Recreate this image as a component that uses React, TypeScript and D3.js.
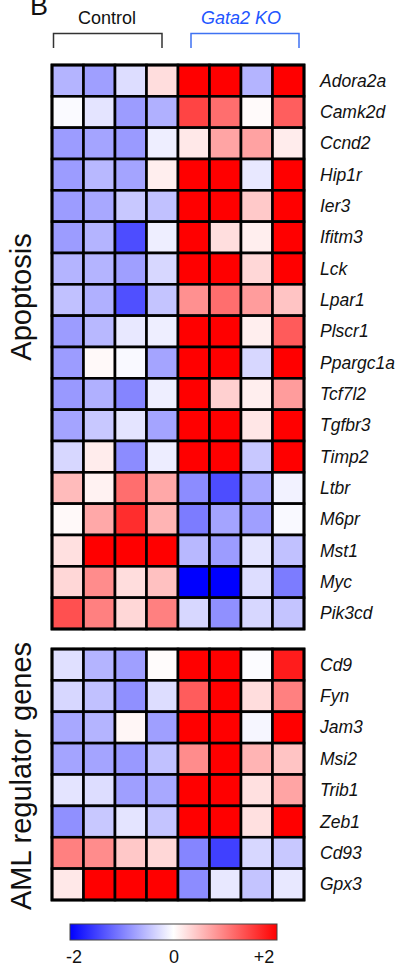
import React, { useEffect, useRef } from "react";
import * as d3 from "d3";

// samples: 4 control + 4 Gata2 KO
const samples = ["C1", "C2", "C3", "C4", "KO1", "KO2", "KO3", "KO4"];

const apoptosisGenes = [
  "Adora2a", "Camk2d", "Ccnd2", "Hip1r", "Ier3", "Ifitm3", "Lck", "Lpar1", "Plscr1",
  "Ppargc1a", "Tcf7l2", "Tgfbr3", "Timp2", "Ltbr", "M6pr", "Mst1", "Myc", "Pik3cd",
];

const apoptosisValues = [
  [-0.59, -0.75, -0.27, 0.27, 2, 2, -0.59, 2],
  [-0.04, -0.21, -0.78, -0.62, 1.47, 1.14, 0.04, 1.26],
  [-0.78, -0.71, -0.79, -0.13, 0.18, 0.71, 0.73, 0.15],
  [-0.78, -0.56, -0.71, 0.13, 2, 2, -0.18, 2],
  [-0.78, -0.68, -0.43, -0.49, 2, 2, 0.42, 2],
  [-0.78, -0.59, -1.4, -0.13, 2, 0.26, 0.13, 2],
  [-0.59, -0.59, -0.75, -0.31, 2, 2, 0.31, 2],
  [-0.49, -0.62, -1.37, -0.46, 0.87, 1.14, 0.78, 0.46],
  [-0.78, -0.56, -0.18, -0.13, 2, 2, 0.13, 1.29],
  [-0.78, 0.05, -0.05, -0.71, 2, 2, -0.31, 2],
  [-0.8, -0.62, -0.96, -0.13, 2, 0.37, 0.13, 0.78],
  [-0.71, -0.43, -0.21, -0.71, 2, 2, 0.2, 2],
  [-0.31, 0.15, -0.9, -0.14, 2, 2, -0.43, 2],
  [0.53, 0.1, 1.14, 0.68, -0.9, -1.4, -0.68, -0.1],
  [0.05, 0.68, 1.65, 0.59, -1.03, -0.71, -0.75, -0.05],
  [0.24, 2, 2, 2, -0.56, -0.78, -0.21, -0.49],
  [0.31, 0.9, 0.27, 0.49, -2, -2, -0.27, -1.03],
  [1.37, 1.0, 0.31, 1.0, -0.31, -0.87, -0.31, -0.46],
];

const amlGenes = ["Cd9", "Fyn", "Jam3", "Msi2", "Trib1", "Zeb1", "Cd93", "Gpx3"];

const amlValues = [
  [-0.24, -0.59, -0.75, 0.02, 2, 2, -0.02, 1.78],
  [-0.31, -0.49, -0.87, -0.27, 1.28, 2, 0.27, 1.0],
  [-0.68, -0.59, 0.07, -0.75, 2, 2, -0.07, 2],
  [-0.71, -0.71, -0.8, -0.49, 0.9, 2, 0.59, 0.46],
  [-0.21, -0.27, -0.75, -0.68, 2, 2, 0.24, 0.71],
  [-0.87, -0.43, -0.21, -0.46, 2, 2, 0.24, 2],
  [1.0, 0.9, 0.43, 0.31, -0.96, -1.5, -0.31, -0.43],
  [0.18, 2, 2, 2, -0.9, -0.18, -0.46, -0.18],
];

const legendTicks = [-2, 0, 2];

const W = 402;
const H = 969;

const App: React.FC = () => {
  const svgRef = useRef<SVGSVGElement>(null);

  useEffect(() => {
    if (!svgRef.current) return;
    const svg = d3.select(svgRef.current);
    svg.selectAll("*").remove();

    const font = "'Liberation Sans', Arial, sans-serif";

    const color = d3
      .scaleLinear<string>()
      .domain([-2, 0, 2])
      .range(["#0000ff", "#ffffff", "#ff0000"])
      .clamp(true);

    const x = d3.scaleBand().domain(samples).range([52, 304]);

    // one block per gene set
    const drawBlock = (
      genes: string[],
      values: number[][],
      top: number,
      bottom: number,
      title: string,
      titleY: number
    ) => {
      const y = d3.scaleBand().domain(genes).range([top, bottom]);
      const cells = genes.flatMap((g, i) =>
        samples.map((s, j) => ({ g, s, v: values[i][j] }))
      );

      const g = svg.append("g");
      g.selectAll("rect")
        .data(cells)
        .join("rect")
        .attr("x", (d) => x(d.s)!)
        .attr("y", (d) => y(d.g)!)
        .attr("width", x.bandwidth())
        .attr("height", y.bandwidth())
        .attr("fill", (d) => color(d.v))
        .attr("stroke", "#000")
        .attr("stroke-width", 2.6);

      g.append("rect")
        .attr("x", 52)
        .attr("y", top)
        .attr("width", 252)
        .attr("height", bottom - top)
        .attr("fill", "none")
        .attr("stroke", "#000")
        .attr("stroke-width", 2.8);

      g.selectAll("text.gene")
        .data(genes)
        .join("text")
        .attr("class", "gene")
        .attr("x", 320)
        .attr("y", (d) => y(d)! + y.bandwidth() / 2 + 6)
        .attr("font-family", font)
        .attr("font-style", "italic")
        .attr("font-size", 17.5)
        .attr("fill", "#111")
        .text((d) => d);

      g.append("text")
        .attr("transform", `translate(31,${titleY}) rotate(-90)`)
        .attr("text-anchor", "middle")
        .attr("font-family", font)
        .attr("font-size", 29)
        .attr("fill", "#111")
        .text(title);
    };

    drawBlock(apoptosisGenes, apoptosisValues, 65, 629, "Apoptosis", 297);
    drawBlock(amlGenes, amlValues, 649, 900, "AML regulator genes", 776);

    // panel letter (cut by the top edge, as in the source figure)
    svg
      .append("text")
      .attr("x", 30)
      .attr("y", 15)
      .attr("font-family", font)
      .attr("font-size", 27)
      .attr("fill", "#111")
      .text("B");

    // group headers
    svg
      .append("text")
      .attr("x", 107)
      .attr("y", 24)
      .attr("text-anchor", "middle")
      .attr("font-family", font)
      .attr("font-size", 18)
      .attr("fill", "#111")
      .text("Control");
    svg
      .append("path")
      .attr("d", "M53.5,48 V33.5 H162 V48")
      .attr("fill", "none")
      .attr("stroke", "#333")
      .attr("stroke-width", 1.5);

    svg
      .append("text")
      .attr("x", 241)
      .attr("y", 24)
      .attr("text-anchor", "middle")
      .attr("font-family", font)
      .attr("font-style", "italic")
      .attr("font-size", 18)
      .attr("fill", "#2255ff")
      .text("Gata2 KO");
    svg
      .append("path")
      .attr("d", "M191,48 V33.5 H299 V48")
      .attr("fill", "none")
      .attr("stroke", "#3f72f2")
      .attr("stroke-width", 1.5);

    // colour bar
    const grad = svg
      .append("defs")
      .append("linearGradient")
      .attr("id", "cbar")
      .attr("x1", "0%")
      .attr("x2", "100%");
    grad.selectAll("stop")
      .data([-2, 0, 2])
      .join("stop")
      .attr("offset", (d) => `${((d + 2) / 4) * 100}%`)
      .attr("stop-color", (d) => color(d));

    svg
      .append("rect")
      .attr("x", 70)
      .attr("y", 924)
      .attr("width", 207)
      .attr("height", 16)
      .attr("fill", "url(#cbar)")
      .attr("stroke", "#444")
      .attr("stroke-width", 1);

    const lx = d3.scaleLinear().domain([-2, 0, 2]).range([74, 174, 264]);
    svg
      .append("g")
      .selectAll("text")
      .data(legendTicks)
      .join("text")
      .attr("x", (d) => lx(d))
      .attr("y", 963)
      .attr("text-anchor", "middle")
      .attr("font-family", font)
      .attr("font-size", 18)
      .attr("fill", "#111")
      .text((d) => (d > 0 ? `+${d}` : `${d}`));
  }, []);

  return (
    <svg
      ref={svgRef}
      width={W}
      height={H}
      style={{ position: "absolute", left: 0, top: 0, background: "#fff" }}
    />
  );
};

export default App;
